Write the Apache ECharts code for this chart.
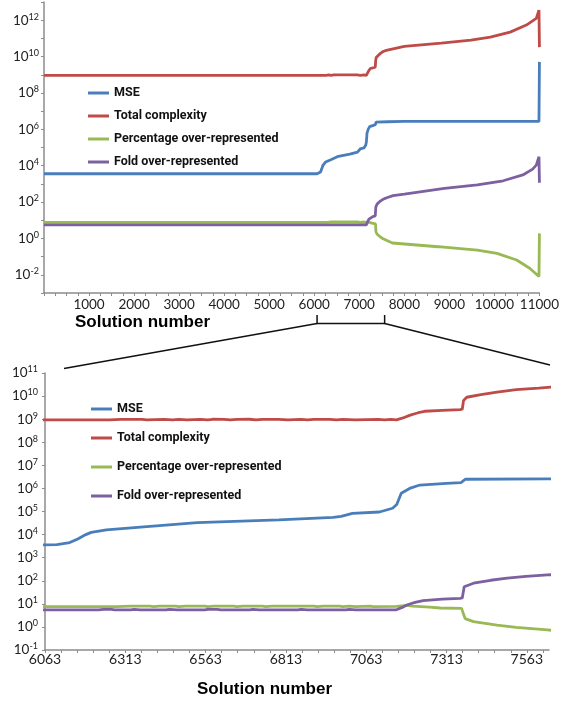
<!DOCTYPE html>
<html>
<head>
<meta charset="utf-8">
<script src="https://cdn.jsdelivr.net/npm/echarts@6/dist/echarts.min.js"></script>
<style>
  html, body { margin: 0; padding: 0; background: #fff; }
  #chart { width: 562px; height: 702px; }
</style>
</head>
<body>
<div id="chart"></div>
<script>
// Series names and colours
const seriesNames = ['MSE', 'Total complexity', 'Percentage over-represented', 'Fold over-represented'];
const seriesColors = ['#4A7EBB', '#BE4B48', '#98B954', '#7D60A0'];

// Each series: [solution number, value]
const mse = [
  [1, 3600], [6063, 3600], [6100, 3700], [6140, 4500], [6165, 6500], [6190, 1.0e4],
  [6207, 1.25e4], [6254, 1.6e4], [6380, 2.2e4], [6537, 3.3e4], [6791, 4.3e4],
  [6960, 5.6e4], [6985, 6.2e4], [7020, 8.3e4], [7104, 9.5e4], [7145, 1.38e5],
  [7158, 2.0e5], [7172, 6.2e5], [7198, 1.0e6], [7230, 1.4e6], [7313, 1.66e6],
  [7358, 1.8e6], [7372, 2.5e6], [7627, 2.6e6], [8000, 2.7e6], [10990, 2.7e6], [11000, 5.1e9]
];

const totalComplexity = [
  [1, 9.3e8], [6264, 9.3e8], [6270, 9.8e8], [6300, 9.8e8], [6305, 9.3e8], [6320, 9.8e8],
  [6350, 9.8e8], [6355, 9.3e8], [6365, 9.8e8], [6380, 9.3e8], [6433, 9.8e8], [6460, 9.3e8],
  [6480, 9.8e8], [6505, 9.3e8], [6546, 9.8e8], [6570, 9.3e8], [6585, 9.9e8], [6620, 9.8e8],
  [6640, 9.3e8], [6660, 9.8e8], [6700, 9.9e8], [6720, 9.4e8], [6740, 9.8e8], [6790, 9.8e8],
  [6819, 9.3e8], [6860, 9.8e8], [6880, 9.3e8], [6900, 9.8e8], [6950, 9.8e8], [6970, 9.3e8],
  [6990, 9.8e8], [7029, 9.3e8], [7101, 9.8e8], [7120, 9.3e8], [7140, 9.8e8], [7157, 9.3e8],
  [7175, 1.1e9], [7200, 1.5e9], [7225, 1.9e9], [7245, 2.2e9], [7300, 2.4e9], [7355, 2.6e9],
  [7362, 2.7e9], [7366, 6.5e9], [7376, 8.9e9], [7420, 1.15e10], [7470, 1.5e10],
  [7530, 1.9e10], [7600, 2.2e10], [7640, 2.45e10], [8000, 3.6e10], [8820, 5.5e10],
  [9480, 8.1e10], [9910, 1.17e11], [10350, 2.2e11], [10710, 5.4e11], [10930, 1.26e12],
  [10990, 3.6e12], [11000, 3.3e10]
];

const percentageOver = [
  [1, 7.6], [6286, 7.6], [6290, 8.0], [6330, 8.0], [6335, 7.6], [6350, 8.0], [6390, 8.0],
  [6400, 7.6], [6420, 8.0], [6470, 8.0], [6480, 7.6], [6500, 8.0], [6560, 8.0], [6570, 7.6],
  [6590, 8.0], [6650, 8.0], [6660, 7.6], [6680, 8.0], [6740, 8.0], [6750, 7.6], [6770, 8.0],
  [6815, 8.0], [6820, 7.6], [6872, 8.0], [6900, 8.0], [6910, 7.6], [6930, 8.0], [6980, 8.0],
  [6990, 7.6], [7010, 8.0], [7029, 7.6], [7075, 8.0], [7085, 7.6], [7157, 7.7], [7190, 8.6],
  [7207, 8.0], [7260, 7.2], [7293, 6.6], [7360, 6.4], [7366, 3.5], [7371, 2.3], [7397, 1.7],
  [7470, 1.2], [7530, 0.95], [7627, 0.74], [7734, 0.56], [8750, 0.35], [9622, 0.23],
  [10058, 0.15], [10494, 0.065], [10784, 0.023], [10990, 0.008], [11000, 1.9]
];

const foldOver = [
  [1, 5.5], [6230, 5.5], [6245, 5.8], [6270, 5.8], [6280, 5.5], [6330, 5.5], [6340, 5.8],
  [6360, 5.5], [6440, 5.5], [6450, 5.8], [6475, 5.5], [6560, 5.5], [6570, 5.8], [6600, 5.8],
  [6610, 5.5], [6700, 5.5], [6710, 5.8], [6730, 5.5], [6850, 5.5], [6860, 5.8], [6880, 5.5],
  [7000, 5.5], [7010, 5.8], [7030, 5.5], [7157, 5.5], [7175, 7.0], [7189, 8.9], [7215, 11.5],
  [7240, 13.8], [7300, 16], [7355, 17.4], [7362, 18], [7368, 55], [7397, 78], [7450, 105],
  [7502, 129], [7560, 155], [7627, 178], [7750, 225], [8000, 270], [8889, 560], [9622, 870],
  [10196, 1480], [10632, 3100], [10850, 6500], [10930, 1.07e4], [10990, 3.1e4], [11000, 1150]
];

// Axis ranges and tick labels
const overviewRange = [0, 11000];
const overviewTickLabels = [1000, 2000, 3000, 4000, 5000, 6000, 7000, 8000, 9000, 10000, 11000];
const detailStart = 6063;
const detailEnd = 7632;
const detailTickLabels = [6063, 6313, 6563, 6813, 7063, 7313, 7563];

const allSeries = [mse, totalComplexity, percentageOver, foldOver];

const axisGray = '#8C8C8C';
const labelFont = 'Lato';

function powerLabel(v, evenOnly) {
  const e = Math.round(Math.log10(v));
  if (evenOnly && e % 2 !== 0) return '';
  return '10{s|' + e + '}';
}

const powerRich = {
  s: { fontSize: 9, lineHeight: 9, verticalAlign: 'top', fontFamily: labelFont, color: '#222' }
};

const chart = echarts.init(document.getElementById('chart'), null, { renderer: 'canvas' });

const series = [];
allSeries.forEach((data, i) => {
  series.push({
    name: seriesNames[i], type: 'line', xAxisIndex: 0, yAxisIndex: 0,
    data: data, showSymbol: false, symbol: 'none',
    lineStyle: { width: 2.8, color: seriesColors[i] }, itemStyle: { color: seriesColors[i] },
    z: 2 + i
  });
  series.push({
    name: seriesNames[i], type: 'line', xAxisIndex: 1, yAxisIndex: 1,
    data: data.map(p => [p[0] - detailStart, p[1]]), showSymbol: false, symbol: 'none',
    lineStyle: { width: 2.8, color: seriesColors[i] }, itemStyle: { color: seriesColors[i] },
    z: 2 + i
  });
});

const legendBase = {
  data: seriesNames, orient: 'vertical', icon: 'rect', itemWidth: 21, itemHeight: 3,
  padding: 0, selectedMode: false,
  textStyle: { fontFamily: 'Roboto', fontWeight: 700, fontSize: 12.5, lineHeight: 14, color: '#111' }
};

const titleStyle = { fontFamily: 'Liberation Sans', fontWeight: 'bold', fontSize: 17, color: '#000' };

chart.setOption({
  animation: false,
  backgroundColor: '#fff',
  title: [
    { text: 'Solution number', left: 75, top: 314, padding: 0, textStyle: titleStyle },
    { text: 'Solution number', left: 197, top: 681, padding: 0, textStyle: titleStyle }
  ],
  legend: [
    Object.assign({}, legendBase, { left: 88, top: 86, itemGap: 9 }),
    Object.assign({}, legendBase, { left: 91, top: 402, itemGap: 15 })
  ],
  grid: [
    { left: 44, top: 2, width: 505, height: 291 },
    { left: 45, top: 373, width: 504, height: 277 }
  ],
  xAxis: [
    {
      gridIndex: 0, type: 'value', min: overviewRange[0], max: overviewRange[1], interval: 250,
      axisLine: { lineStyle: { color: axisGray, width: 1.5 } },
      axisTick: { length: 3, lineStyle: { color: axisGray, width: 1 } },
      splitLine: { show: false },
      axisLabel: {
        margin: 5, fontFamily: labelFont, fontSize: 13.5, color: '#222',
        formatter: v => overviewTickLabels.includes(v) ? String(v) : ''
      }
    },
    {
      gridIndex: 1, type: 'value', min: 0, max: detailEnd - detailStart, interval: 50,
      axisLine: { lineStyle: { color: axisGray, width: 1.5 } },
      axisTick: { length: 3, lineStyle: { color: axisGray, width: 1 } },
      splitLine: { show: false },
      axisLabel: {
        margin: 2, fontFamily: labelFont, fontSize: 14, color: '#222', showMaxLabel: false,
        formatter: v => detailTickLabels.includes(v + detailStart) ? String(v + detailStart) : ''
      }
    }
  ],
  yAxis: [
    {
      gridIndex: 0, type: 'log', logBase: 10, min: 1e-3, max: 1e13, interval: 1,
      axisLine: { show: true, lineStyle: { color: axisGray, width: 1.5 } },
      axisTick: { show: true, length: 3, lineStyle: { color: axisGray, width: 1 } },
      splitLine: { show: false },
      axisLabel: {
        margin: 5, fontFamily: labelFont, fontSize: 13.5, color: '#222', lineHeight: 16,
        formatter: v => powerLabel(v, true), rich: powerRich
      }
    },
    {
      gridIndex: 1, type: 'log', logBase: 10, min: 1e-1, max: 1e11, interval: 1,
      axisLine: { show: true, lineStyle: { color: axisGray, width: 1.5 } },
      axisTick: { show: true, length: 3, lineStyle: { color: axisGray, width: 1 } },
      splitLine: { show: false },
      axisLabel: {
        margin: 7, fontFamily: labelFont, fontSize: 13.5, color: '#222', lineHeight: 16,
        formatter: v => powerLabel(v, false), rich: powerRich
      }
    }
  ],
  series: series
});

// Bracket under the overview axis marking the detailed range, with connectors to the lower panel
const xa = chart.convertToPixel({ xAxisIndex: 0 }, detailStart);
const xb = chart.convertToPixel({ xAxisIndex: 0 }, detailTickLabels[detailTickLabels.length - 1]);
const bracketY = 323.5;
const connectorStyle = { stroke: '#111', lineWidth: 1.5 };
chart.setOption({
  graphic: [
    { type: 'polyline', shape: { points: [[xa, 315], [xa, bracketY], [xb, bracketY], [xb, 315]] }, style: Object.assign({ fill: null }, connectorStyle) },
    { type: 'line', shape: { x1: xa, y1: bracketY, x2: 64, y2: 368.5 }, style: connectorStyle },
    { type: 'line', shape: { x1: xb, y1: bracketY, x2: 550, y2: 365 }, style: connectorStyle }
  ]
});
</script>
</body>
</html>
